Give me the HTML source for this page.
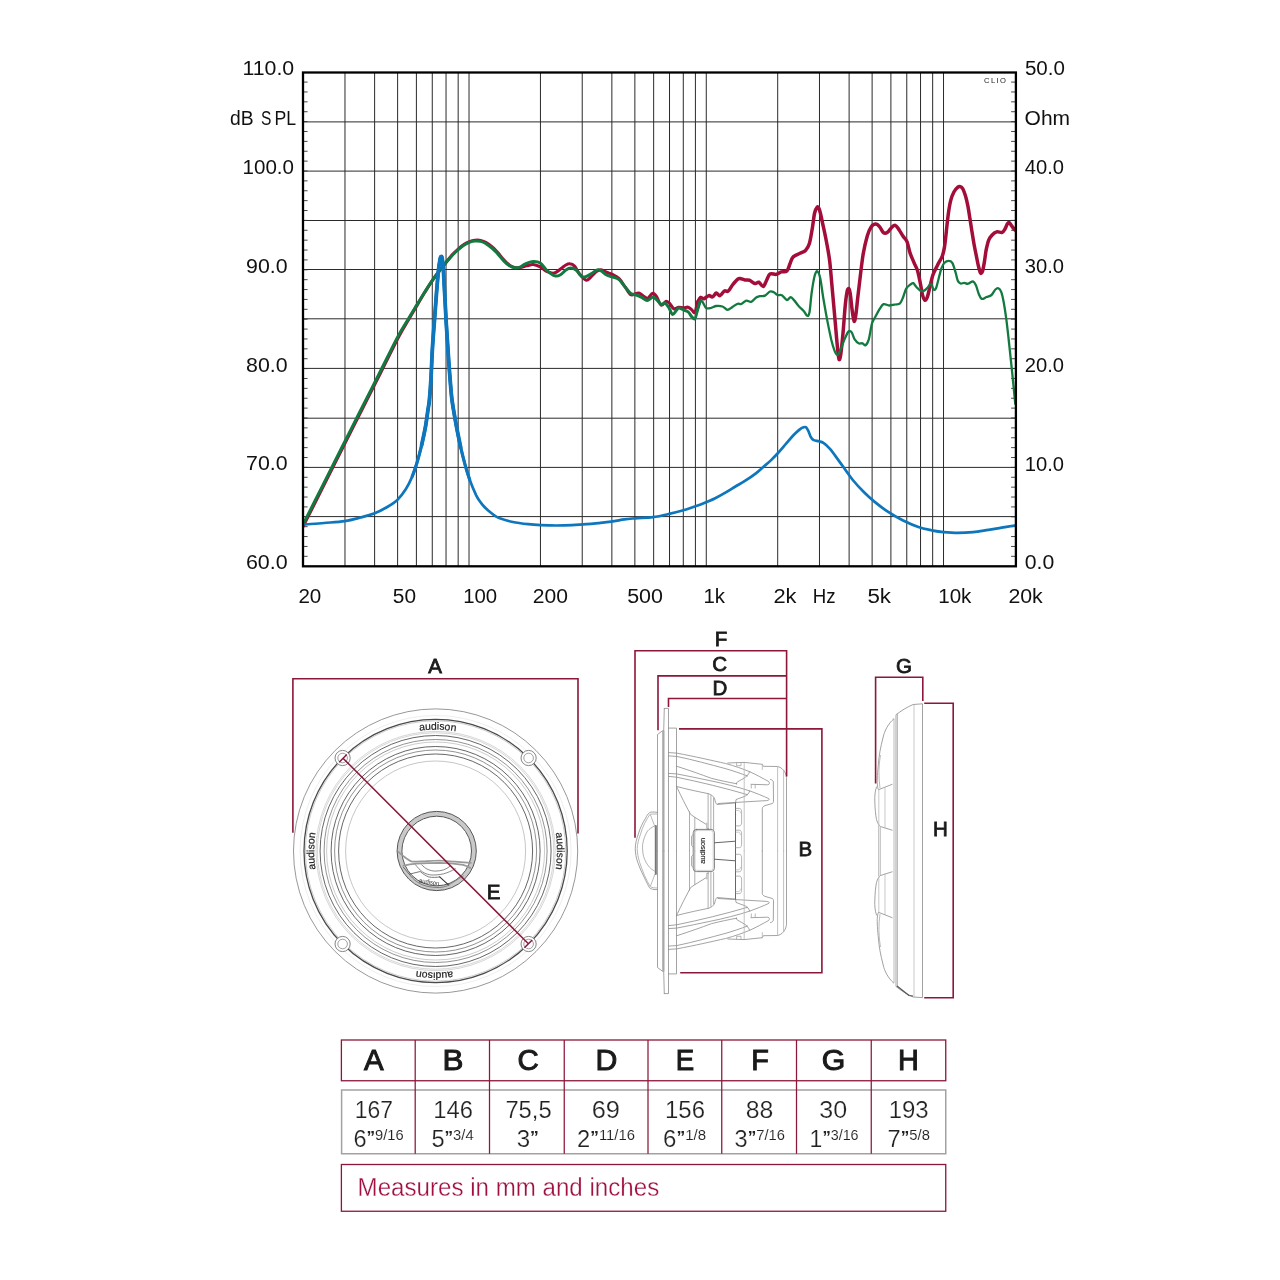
<!DOCTYPE html>
<html><head><meta charset="utf-8"><title>Speaker response and dimensions</title>
<style>
html,body{margin:0;padding:0;background:#fff;}
body{width:1280px;height:1280px;overflow:hidden;font-family:"Liberation Sans", sans-serif;}
svg{display:block;font-family:"Liberation Sans", sans-serif;will-change:transform;}
</style></head><body>
<svg width="1280" height="1280" viewBox="0 0 1280 1280">
<defs><clipPath id="cc"><rect x="302" y="72" width="715" height="495"/></clipPath></defs>
<rect width="1280" height="1280" fill="#fff"/>
<!-- CHART -->
<path d="M344.98 72.5V566.3M374.62 72.5V566.3M397.61 72.5V566.3M416.40 72.5V566.3M432.28 72.5V566.3M446.04 72.5V566.3M458.17 72.5V566.3M469.03 72.5V566.3M540.45 72.5V566.3M582.23 72.5V566.3M611.87 72.5V566.3M634.86 72.5V566.3M653.65 72.5V566.3M669.53 72.5V566.3M683.29 72.5V566.3M695.42 72.5V566.3M706.28 72.5V566.3M777.70 72.5V566.3M819.48 72.5V566.3M849.12 72.5V566.3M872.11 72.5V566.3M890.90 72.5V566.3M906.78 72.5V566.3M920.54 72.5V566.3M932.67 72.5V566.3M943.53 72.5V566.3M303.0 516.60H1015.9M303.0 467.40H1015.9M303.0 418.20H1015.9M303.0 368.40H1015.9M303.0 318.80H1015.9M303.0 269.50H1015.9M303.0 220.50H1015.9M303.0 171.10H1015.9M303.0 121.90H1015.9" stroke="#2a2a2a" stroke-width="1.0" fill="none"/>
<path d="M303.0 556.32h4.6M1015.9 556.32h-4.8M303.0 546.44h4.6M1015.9 546.44h-4.8M303.0 536.56h4.6M1015.9 536.56h-4.8M303.0 526.68h4.6M1015.9 526.68h-4.8M303.0 516.80h4.6M1015.9 516.80h-4.8M303.0 506.92h4.6M1015.9 506.92h-4.8M303.0 497.04h4.6M1015.9 497.04h-4.8M303.0 487.16h4.6M1015.9 487.16h-4.8M303.0 477.28h4.6M1015.9 477.28h-4.8M303.0 467.40h4.6M1015.9 467.40h-4.8M303.0 457.52h4.6M1015.9 457.52h-4.8M303.0 447.64h4.6M1015.9 447.64h-4.8M303.0 437.76h4.6M1015.9 437.76h-4.8M303.0 427.88h4.6M1015.9 427.88h-4.8M303.0 418.00h4.6M1015.9 418.00h-4.8M303.0 408.12h4.6M1015.9 408.12h-4.8M303.0 398.24h4.6M1015.9 398.24h-4.8M303.0 388.36h4.6M1015.9 388.36h-4.8M303.0 378.48h4.6M1015.9 378.48h-4.8M303.0 368.60h4.6M1015.9 368.60h-4.8M303.0 358.72h4.6M1015.9 358.72h-4.8M303.0 348.84h4.6M1015.9 348.84h-4.8M303.0 338.96h4.6M1015.9 338.96h-4.8M303.0 329.08h4.6M1015.9 329.08h-4.8M303.0 319.20h4.6M1015.9 319.20h-4.8M303.0 309.32h4.6M1015.9 309.32h-4.8M303.0 299.44h4.6M1015.9 299.44h-4.8M303.0 289.56h4.6M1015.9 289.56h-4.8M303.0 279.68h4.6M1015.9 279.68h-4.8M303.0 269.80h4.6M1015.9 269.80h-4.8M303.0 259.92h4.6M1015.9 259.92h-4.8M303.0 250.04h4.6M1015.9 250.04h-4.8M303.0 240.16h4.6M1015.9 240.16h-4.8M303.0 230.28h4.6M1015.9 230.28h-4.8M303.0 220.40h4.6M1015.9 220.40h-4.8M303.0 210.52h4.6M1015.9 210.52h-4.8M303.0 200.64h4.6M1015.9 200.64h-4.8M303.0 190.76h4.6M1015.9 190.76h-4.8M303.0 180.88h4.6M1015.9 180.88h-4.8M303.0 171.00h4.6M1015.9 171.00h-4.8M303.0 161.12h4.6M1015.9 161.12h-4.8M303.0 151.24h4.6M1015.9 151.24h-4.8M303.0 141.36h4.6M1015.9 141.36h-4.8M303.0 131.48h4.6M1015.9 131.48h-4.8M303.0 121.60h4.6M1015.9 121.60h-4.8M303.0 111.72h4.6M1015.9 111.72h-4.8M303.0 101.84h4.6M1015.9 101.84h-4.8M303.0 91.96h4.6M1015.9 91.96h-4.8M303.0 82.08h4.6M1015.9 82.08h-4.8" stroke="#333" stroke-width="0.9" fill="none"/>
<g fill="none" stroke-linejoin="round" stroke-linecap="round" clip-path="url(#cc)">
<path d="M302.4 527.8C305.9 520.8 316.8 499.3 323.4 486.1C330.0 472.9 335.9 461.2 342.2 448.8C348.5 436.4 354.7 423.9 361.0 411.5C367.3 399.1 373.6 386.6 379.9 374.2C386.2 361.8 393.7 346.1 398.6 336.9C403.5 327.7 406.1 324.0 409.1 318.8C412.2 313.5 414.3 310.0 416.9 305.6C419.5 301.2 422.1 296.7 424.7 292.5C427.3 288.3 430.0 283.9 432.5 280.3C435.0 276.7 437.2 273.7 439.5 270.7C441.8 267.7 443.9 264.9 446.1 262.2C448.3 259.5 450.5 256.8 452.5 254.6C454.5 252.4 456.0 251.0 457.9 249.3C459.8 247.6 461.8 245.9 463.8 244.6C465.7 243.3 467.5 242.3 469.4 241.6C471.3 240.9 473.1 240.5 475.0 240.3C476.9 240.1 478.7 240.0 480.6 240.4C482.5 240.8 484.4 241.5 486.2 242.6C488.1 243.7 490.0 245.2 491.9 246.8C493.8 248.4 495.6 250.4 497.5 252.4C499.4 254.4 501.2 257.0 503.1 259.0C505.0 261.0 506.9 263.2 508.8 264.6C510.6 266.0 512.7 266.9 514.4 267.4C516.1 267.9 516.9 268.0 519.0 267.7C521.1 267.4 524.5 266.3 526.9 265.8C529.2 265.3 530.9 264.3 533.1 264.5C535.3 264.7 537.9 265.7 540.2 266.9C542.6 268.1 544.9 270.6 547.2 271.6C549.5 272.6 551.9 273.6 554.2 273.1C556.5 272.6 559.3 269.8 561.2 268.4C563.2 267.0 564.5 265.8 565.9 265.0C567.3 264.2 568.4 263.6 569.8 263.8C571.2 263.9 572.8 264.3 574.5 266.1C576.2 267.9 578.0 272.4 580.0 274.7C582.0 277.0 584.4 279.8 586.2 280.2C588.1 280.6 589.2 278.4 590.9 277.0C592.6 275.6 594.7 272.8 596.4 271.6C598.1 270.4 599.4 269.6 601.1 269.7C602.8 269.8 604.7 271.5 606.6 272.3C608.5 273.1 610.7 273.6 612.8 274.7C614.9 275.8 617.0 276.5 619.1 278.6C621.2 280.7 623.3 284.5 625.3 287.2C627.2 289.9 629.0 293.7 630.8 294.7C632.6 295.7 634.8 293.7 636.2 293.4C637.7 293.1 638.1 292.6 639.4 293.1C640.7 293.6 642.7 295.8 644.1 296.6C645.5 297.4 646.6 298.6 648.0 298.1C649.4 297.6 651.3 293.6 652.7 293.4C654.1 293.1 655.2 294.6 656.6 296.6C658.0 298.6 659.6 304.4 661.2 305.2C662.9 306.0 664.8 301.5 666.2 301.2C667.7 301.0 668.8 302.5 670.0 303.8C671.2 305.0 672.3 308.2 673.8 308.8C675.2 309.3 677.1 307.4 678.8 307.2C680.4 307.1 682.2 307.8 683.8 307.8C685.3 307.8 686.7 306.9 688.1 307.2C689.5 307.6 690.8 309.1 691.9 310.0C693.0 310.9 694.1 313.8 695.0 312.5C695.9 311.2 696.6 305.0 697.5 302.5C698.4 300.0 700.1 298.3 700.6 297.5" stroke="#a30d3a" stroke-width="3.1"/>
<path d="M697.5 302.5C698.0 301.7 699.6 298.1 700.6 297.5C701.6 296.9 702.4 299.1 703.8 298.8C705.1 298.4 707.3 295.9 708.8 295.6C710.2 295.3 711.2 297.3 712.5 296.9C713.8 296.5 715.0 293.3 716.2 293.1C717.5 292.9 718.6 296.0 720.0 295.6C721.4 295.2 723.0 291.7 724.4 291.0C725.8 290.3 726.8 292.2 728.1 291.2C729.5 290.2 730.9 287.0 732.5 285.0C734.1 283.0 736.2 280.5 737.5 279.4C738.8 278.3 738.8 278.4 740.0 278.5C741.2 278.6 743.4 279.7 745.0 280.0C746.6 280.3 747.7 279.7 749.4 280.2C751.1 280.8 753.4 283.2 755.0 283.5C756.6 283.8 757.4 281.8 758.8 282.2C760.1 282.8 761.9 286.7 763.1 286.5C764.4 286.3 765.1 283.3 766.2 281.2C767.4 279.2 768.3 275.1 770.0 274.0C771.7 272.9 774.4 274.8 776.2 274.4C778.1 274.0 779.5 272.5 781.2 271.9C783.0 271.3 785.4 272.4 786.9 271.0C788.4 269.6 789.0 266.1 790.0 263.8C791.0 261.4 791.4 258.6 793.1 256.9C794.8 255.2 797.9 254.4 800.0 253.3C802.1 252.2 803.9 252.0 805.5 250.4C807.1 248.8 808.3 247.1 809.4 243.5C810.5 239.9 811.3 234.1 812.2 229.0C813.1 223.9 813.8 216.6 814.6 213.0C815.4 209.4 816.5 208.0 817.2 207.2C817.9 206.4 818.2 207.2 818.8 208.1C819.3 209.0 819.5 209.7 820.3 212.8C821.1 215.9 822.3 222.0 823.4 226.9C824.5 231.8 825.5 236.8 826.6 242.5C827.7 248.2 828.8 254.0 829.7 261.2C830.6 268.5 831.2 277.7 832.0 286.2C832.8 294.8 833.6 303.9 834.4 312.8C835.2 321.7 836.1 332.4 836.7 339.4C837.4 346.4 837.8 351.6 838.3 355.0C838.8 358.4 839.0 360.0 839.4 359.7C839.8 359.4 840.3 357.8 840.9 353.4C841.5 349.0 842.3 340.7 843.0 333.1C843.7 325.6 844.4 314.9 845.0 308.1C845.6 301.3 846.3 295.8 846.9 292.5C847.5 289.2 848.2 288.3 848.8 288.6C849.3 288.9 849.7 290.3 850.3 294.1C850.9 297.9 851.6 306.7 852.3 311.2C852.9 315.8 853.6 320.9 854.2 321.4C854.8 321.9 855.3 318.4 855.9 314.4C856.5 310.4 857.1 303.4 857.8 297.2C858.5 290.9 859.3 284.2 860.2 276.9C861.1 269.6 862.1 260.2 863.3 253.4C864.5 246.6 865.9 240.7 867.2 236.2C868.5 231.8 869.7 228.9 871.1 226.9C872.5 224.9 874.4 224.1 875.8 224.1C877.2 224.1 878.4 225.4 879.7 226.9C881.0 228.4 882.3 231.9 883.6 232.8C884.9 233.7 886.2 233.2 887.5 232.3C888.8 231.5 890.1 228.9 891.4 227.7C892.7 226.5 894.0 224.9 895.3 225.3C896.6 225.7 897.9 228.2 899.2 230.0C900.5 231.8 901.8 234.3 903.1 236.2C904.4 238.2 905.8 238.8 907.0 241.7C908.2 244.6 909.0 249.9 910.2 253.4C911.4 256.9 912.9 259.9 914.1 262.8C915.3 265.7 916.5 267.2 917.5 270.6C918.5 274.0 919.4 278.9 920.3 283.1C921.2 287.3 921.9 292.7 922.7 295.6C923.5 298.5 924.2 300.0 925.0 300.3C925.8 300.6 926.5 299.3 927.3 297.2C928.1 295.1 928.8 291.4 929.7 287.8C930.6 284.2 931.5 279.1 932.8 275.3C934.1 271.5 935.9 268.4 937.5 265.2C939.1 262.0 941.0 259.4 942.2 256.4C943.4 253.3 943.8 251.2 944.5 246.9C945.2 242.7 945.8 236.4 946.4 230.9C947.0 225.4 947.6 219.0 948.3 214.0C949.0 209.0 949.7 204.6 950.6 200.9C951.5 197.2 952.7 194.3 953.9 192.0C955.1 189.7 956.5 188.2 957.6 187.3C958.7 186.4 959.6 186.5 960.5 186.7C961.4 186.9 961.9 187.2 962.8 188.8C963.6 190.3 964.7 193.3 965.6 196.2C966.5 199.2 967.3 203.0 968.0 206.6C968.7 210.2 969.2 213.9 969.8 217.8C970.4 221.7 971.0 225.6 971.7 230.0C972.4 234.4 973.2 239.6 974.0 244.0C974.8 248.4 975.6 252.3 976.4 256.2C977.2 260.2 978.0 264.7 978.8 267.5C979.5 270.3 980.0 272.5 980.6 273.1C981.2 273.7 981.9 273.1 982.5 271.2C983.1 269.4 983.8 265.5 984.4 261.9C985.0 258.3 985.5 253.3 986.2 249.7C987.0 246.1 987.7 242.7 988.6 240.3C989.5 237.9 990.6 236.6 991.9 235.2C993.2 233.8 994.9 232.4 996.6 231.9C998.3 231.4 1000.8 232.8 1002.2 232.3C1003.6 231.8 1004.1 230.4 1005.0 229.0C1005.9 227.6 1006.6 225.0 1007.3 223.9C1008.0 222.8 1008.5 222.2 1009.2 222.5C1009.9 222.8 1010.7 224.6 1011.6 225.8C1012.5 227.1 1014.3 229.3 1014.8 230.0" stroke="#a30d3a" stroke-width="3.5"/>
<path d="M303.6 523.4C306.7 517.2 316.1 498.5 322.4 486.1C328.7 473.7 334.9 461.2 341.2 448.8C347.5 436.4 353.7 423.9 360.0 411.5C366.3 399.1 372.6 386.6 378.9 374.2C385.2 361.8 392.8 346.1 397.7 336.9C402.6 327.7 405.3 324.0 408.4 318.8C411.5 313.5 413.7 310.0 416.4 305.6C419.1 301.2 421.8 296.7 424.4 292.5C427.0 288.3 429.8 283.9 432.3 280.3C434.8 276.7 437.1 273.9 439.4 270.9C441.7 267.9 443.9 265.1 446.1 262.5C448.3 259.9 450.5 257.1 452.5 255.0C454.5 252.9 456.0 251.4 457.9 249.8C459.8 248.2 461.8 246.4 463.8 245.2C465.7 243.9 467.5 243.0 469.4 242.3C471.3 241.6 473.1 241.2 475.0 241.1C476.9 240.9 478.7 241.0 480.6 241.4C482.5 241.8 484.4 242.7 486.2 243.8C488.1 244.8 490.0 246.4 491.9 248.0C493.8 249.6 495.6 251.6 497.5 253.6C499.4 255.6 501.2 258.2 503.1 260.2C505.0 262.1 506.9 264.1 508.8 265.3C510.6 266.6 512.5 267.4 514.4 267.7C516.3 268.0 518.2 267.9 520.0 267.2C521.8 266.5 523.1 264.7 525.3 263.8C527.5 262.8 530.6 261.5 533.1 261.4C535.6 261.3 537.9 261.4 540.2 263.0C542.6 264.6 544.7 268.7 547.2 270.8C549.7 272.9 552.8 275.2 555.0 275.9C557.2 276.5 558.7 275.7 560.5 274.7C562.3 273.7 564.2 271.1 565.9 270.0C567.6 268.9 568.9 268.1 570.6 268.1C572.3 268.1 574.3 268.6 576.1 270.0C577.9 271.4 580.1 275.1 581.6 276.2C583.1 277.4 583.5 277.4 585.0 277.0C586.5 276.6 588.9 275.1 590.9 273.9C592.9 272.7 595.5 270.5 597.2 270.0C598.9 269.5 599.5 270.0 601.1 270.8C602.7 271.6 604.7 274.0 606.6 275.0C608.5 276.0 610.7 276.2 612.8 277.0C614.9 277.8 617.0 278.0 619.1 279.7C621.2 281.4 623.3 284.9 625.3 287.2C627.2 289.5 629.0 292.1 630.8 293.4C632.6 294.7 634.4 294.4 636.2 295.0C638.1 295.6 639.9 296.4 641.7 297.3C643.5 298.2 645.4 300.5 647.2 300.5C649.0 300.5 651.1 297.4 652.7 297.3C654.3 297.2 655.2 298.5 656.6 299.7C658.0 300.9 659.9 303.8 661.2 304.4C662.6 305.0 663.8 302.6 665.0 303.1C666.2 303.6 667.5 305.6 668.8 307.5C670.0 309.4 671.2 313.9 672.5 314.4C673.8 314.9 675.2 311.7 676.2 310.6C677.3 309.6 677.5 308.2 678.8 308.1C680.0 308.0 682.2 309.4 683.8 310.0C685.3 310.6 686.7 310.8 688.1 311.9C689.5 313.0 690.8 315.8 691.9 316.9C693.0 318.0 694.1 319.6 695.0 318.5C695.9 317.4 696.7 312.8 697.5 310.0C698.3 307.2 699.6 303.2 700.0 301.9" stroke="#127a3e" stroke-width="3.0"/>
<path d="M697.5 310.0C697.9 308.6 699.2 303.2 700.0 301.9C700.8 300.5 701.5 300.9 702.5 301.9C703.5 302.9 704.8 307.1 706.2 308.1C707.7 309.1 709.6 308.1 711.2 307.8C712.9 307.4 714.4 306.2 716.2 306.0C718.1 305.8 720.6 305.9 722.5 306.5C724.4 307.1 725.8 309.7 727.5 309.8C729.2 309.8 730.8 307.9 732.5 306.9C734.2 305.9 736.0 304.2 737.5 303.8C739.0 303.3 739.8 304.5 741.2 304.0C742.7 303.5 744.6 301.0 746.2 300.6C747.9 300.2 749.6 302.4 751.2 301.9C752.9 301.4 754.8 298.4 756.2 297.5C757.7 296.6 758.5 296.6 760.0 296.2C761.5 295.9 763.3 296.4 765.0 295.6C766.7 294.8 768.5 292.1 770.0 291.5C771.5 290.9 772.5 291.7 773.8 292.2C775.0 292.8 776.1 294.5 777.5 295.0C778.9 295.5 780.3 294.4 781.9 295.2C783.5 296.1 785.4 299.7 786.9 300.0C788.4 300.3 789.4 297.1 790.6 297.2C791.9 297.4 793.0 299.1 794.4 300.6C795.8 302.1 797.2 304.5 798.8 306.2C800.3 308.0 802.5 309.7 803.9 311.2C805.3 312.8 806.1 315.3 807.0 315.6C807.9 315.9 808.6 316.7 809.4 312.8C810.2 308.9 810.8 298.8 811.7 292.5C812.6 286.2 813.8 278.8 814.8 275.3C815.8 271.8 816.6 270.9 817.5 271.4C818.4 271.9 819.3 273.8 820.3 278.4C821.3 283.0 822.2 291.7 823.4 298.8C824.6 305.8 826.0 313.8 827.3 320.6C828.6 327.4 830.1 334.4 831.2 339.4C832.4 344.3 833.4 347.7 834.4 350.3C835.4 352.9 836.5 355.1 837.5 355.0C838.5 354.9 839.4 352.1 840.6 349.5C841.8 346.9 843.2 342.4 844.5 339.4C845.8 336.4 847.2 332.8 848.4 331.6C849.6 330.4 850.5 331.0 851.6 332.3C852.7 333.6 853.5 337.6 854.7 339.4C855.9 341.2 857.3 342.6 858.6 343.3C859.9 344.0 861.3 343.0 862.5 343.3C863.7 343.6 864.6 346.0 865.6 345.3C866.6 344.6 867.7 343.0 868.8 339.4C869.8 335.8 870.9 327.4 871.9 323.8C872.9 320.1 873.7 320.0 875.0 317.5C876.3 315.0 878.3 311.1 879.7 308.9C881.1 306.7 882.0 304.8 883.6 304.2C885.2 303.6 887.2 305.4 889.1 305.5C891.0 305.6 893.5 304.9 895.3 304.5C897.1 304.1 898.7 304.6 900.0 303.4C901.3 302.2 902.1 299.7 903.1 297.2C904.1 294.7 905.1 290.7 906.2 288.6C907.4 286.5 909.0 285.6 910.2 284.7C911.4 283.8 912.3 282.7 913.3 283.1C914.3 283.5 915.2 285.8 916.4 287.0C917.6 288.2 919.0 290.0 920.3 290.6C921.6 291.2 922.9 291.2 924.2 290.6C925.5 290.0 927.0 288.1 928.1 287.0C929.2 285.9 930.0 283.5 930.9 283.9C931.8 284.3 932.8 288.6 933.6 289.4C934.4 290.2 935.1 290.2 935.9 288.6C936.7 287.0 937.4 283.4 938.3 280.0C939.2 276.6 940.4 271.2 941.4 268.3C942.4 265.4 943.3 264.0 944.5 262.8C945.7 261.6 947.1 260.9 948.4 260.9C949.7 260.9 951.1 260.9 952.3 262.8C953.5 264.7 954.6 269.2 955.5 272.2C956.4 275.2 957.0 278.9 957.8 280.8C958.6 282.7 959.4 283.1 960.5 283.5C961.6 283.9 962.9 282.9 964.2 282.9C965.5 282.9 966.6 284.0 968.1 283.7C969.6 283.4 971.7 281.1 973.0 281.3C974.3 281.6 974.9 283.1 975.9 285.2C976.9 287.3 977.8 291.7 978.8 294.0C979.8 296.3 980.5 298.4 981.8 298.9C983.0 299.4 985.0 297.6 986.6 297.0C988.2 296.4 990.0 296.2 991.5 295.0C993.0 293.8 994.2 290.6 995.4 289.5C996.5 288.4 997.4 287.8 998.4 288.2C999.4 288.6 1000.4 289.7 1001.3 292.1C1002.2 294.5 1003.0 298.4 1003.8 302.8C1004.6 307.2 1005.4 312.5 1006.2 318.4C1007.0 324.3 1007.7 330.8 1008.5 338.0C1009.3 345.2 1010.2 354.2 1011.0 361.4C1011.8 368.5 1012.3 373.8 1013.0 380.9C1013.7 388.0 1014.9 400.1 1015.3 404.0" stroke="#127a3e" stroke-width="2.3"/>
<path d="M303.6 524.5C307.0 524.2 317.1 523.6 324.0 523.0C330.9 522.4 338.6 522.0 344.7 521.1C350.8 520.2 355.6 518.8 360.6 517.5C365.6 516.2 370.3 515.0 374.7 513.3C379.1 511.5 383.4 509.2 387.2 507.0C391.0 504.8 394.2 503.0 397.3 500.0C400.4 497.0 403.4 492.9 405.9 489.0C408.4 485.1 410.4 480.8 412.2 476.6C414.0 472.4 415.0 469.2 416.6 464.0C418.2 458.8 420.1 451.5 421.6 445.3C423.1 439.1 424.5 432.3 425.5 426.6C426.5 420.9 427.2 415.4 427.8 411.0C428.4 406.6 428.9 405.5 429.4 400.0C429.9 394.5 430.5 386.8 431.0 378.0C431.5 369.2 431.9 356.9 432.5 347.2C433.1 337.5 433.8 329.0 434.5 320.0C435.2 311.0 435.8 301.3 436.5 293.0C437.2 284.7 437.9 275.8 438.5 270.0C439.1 264.2 439.8 260.7 440.2 258.5C440.6 256.3 440.8 256.6 441.1 256.6C441.4 256.6 441.8 255.9 442.2 258.5C442.6 261.1 443.1 265.8 443.5 272.0C443.9 278.2 444.3 287.6 444.8 296.0C445.3 304.4 445.7 313.5 446.2 322.5C446.8 331.5 447.4 340.8 448.0 350.0C448.6 359.2 449.3 369.7 450.0 378.0C450.7 386.3 451.0 392.4 452.0 400.0C453.0 407.6 454.5 415.6 455.9 423.4C457.3 431.2 459.0 439.9 460.6 446.9C462.2 453.9 463.8 460.1 465.3 465.6C466.8 471.1 467.9 474.8 469.7 479.7C471.5 484.6 474.5 491.7 476.2 495.3C478.0 498.9 478.7 499.6 480.0 501.5C481.3 503.4 482.5 504.9 484.0 506.5C485.5 508.1 486.9 509.4 488.8 511.0C490.6 512.5 493.2 514.6 495.0 515.8C496.8 517.0 496.7 517.3 499.7 518.3C502.7 519.3 508.1 521.0 512.8 522.0C517.5 523.0 523.5 523.7 528.1 524.2C532.7 524.7 535.9 524.9 540.6 525.1C545.4 525.3 551.4 525.5 556.6 525.5C561.8 525.5 567.5 525.3 571.9 525.1C576.3 524.9 578.4 524.7 582.8 524.4C587.2 524.1 593.4 523.6 598.1 523.1C602.8 522.6 606.9 522.2 611.2 521.6C615.6 521.0 620.4 520.0 624.4 519.4C628.4 518.8 630.6 518.7 635.3 518.3C640.0 517.9 647.1 517.9 652.8 517.2C658.4 516.5 664.1 515.1 669.2 513.9C674.3 512.7 679.0 511.5 683.4 510.2C687.8 508.9 692.7 507.1 695.5 506.2C698.3 505.4 698.1 505.5 700.0 504.8C701.9 504.1 704.1 503.2 706.6 502.1C709.1 501.0 712.1 499.8 715.2 498.2C718.3 496.6 722.0 494.6 725.4 492.6C728.8 490.7 732.1 488.5 735.5 486.5C738.9 484.5 742.3 482.6 745.7 480.4C749.1 478.2 753.0 475.5 755.9 473.3C758.8 471.1 760.5 469.4 763.0 467.2C765.5 465.0 768.6 462.5 771.1 460.1C773.6 457.7 775.5 455.8 778.0 453.0C780.5 450.2 783.7 446.4 786.3 443.4C788.9 440.4 791.2 437.5 793.4 435.2C795.6 432.9 797.8 431.0 799.5 429.6C801.2 428.3 802.5 427.7 803.6 427.3C804.7 426.9 805.3 426.7 806.1 427.3C806.9 427.9 807.4 429.1 808.2 430.7C809.0 432.3 809.9 435.3 810.7 436.8C811.5 438.3 811.9 439.1 813.2 439.8C814.6 440.6 817.1 440.8 818.8 441.3C820.5 441.8 821.5 441.6 823.4 442.9C825.3 444.1 828.0 446.7 830.0 448.9C832.0 451.1 832.9 452.7 835.3 455.9C837.6 459.1 841.2 464.0 844.1 468.0C847.0 472.0 849.5 476.0 852.8 480.0C856.1 484.0 860.1 488.4 863.8 492.0C867.4 495.6 870.7 498.6 874.7 501.9C878.7 505.2 883.1 508.6 887.8 511.7C892.5 514.8 898.0 518.0 903.1 520.5C908.2 523.0 913.6 525.4 918.4 527.0C923.1 528.6 927.4 529.4 931.6 530.3C935.8 531.1 939.2 531.7 943.6 532.1C948.0 532.5 952.9 532.9 957.8 532.9C962.7 532.9 968.0 532.6 973.1 532.1C978.2 531.6 983.6 530.6 988.4 529.9C993.1 529.2 997.2 528.4 1001.6 527.7C1006.0 527.0 1012.5 525.9 1014.7 525.5" stroke="#0e76bc" stroke-width="2.7"/>
<path d="M412.2 476.6C412.9 474.5 415.0 469.2 416.6 464.0C418.2 458.8 420.1 451.5 421.6 445.3C423.1 439.1 424.5 432.3 425.5 426.6C426.5 420.9 427.2 415.4 427.8 411.0C428.4 406.6 428.9 405.5 429.4 400.0C429.9 394.5 430.5 386.8 431.0 378.0C431.5 369.2 431.9 356.9 432.5 347.2C433.1 337.5 433.8 329.0 434.5 320.0C435.2 311.0 435.8 301.3 436.5 293.0C437.2 284.7 437.9 275.8 438.5 270.0C439.1 264.2 439.8 260.7 440.2 258.5C440.6 256.3 440.8 256.6 441.1 256.6C441.4 256.6 441.8 255.9 442.2 258.5C442.6 261.1 443.1 265.8 443.5 272.0C443.9 278.2 444.3 287.6 444.8 296.0C445.3 304.4 445.7 313.5 446.2 322.5C446.8 331.5 447.4 340.8 448.0 350.0C448.6 359.2 449.3 369.7 450.0 378.0C450.7 386.3 451.0 392.4 452.0 400.0C453.0 407.6 454.5 415.6 455.9 423.4C457.3 431.2 459.0 439.9 460.6 446.9C462.2 453.9 463.8 460.1 465.3 465.6C466.8 471.1 469.0 477.4 469.7 479.7" stroke="#0e76bc" stroke-width="3.2"/>
<path d="M421.6 445.3C422.2 442.2 424.5 432.3 425.5 426.6C426.5 420.9 427.2 415.4 427.8 411.0C428.4 406.6 428.9 405.5 429.4 400.0C429.9 394.5 430.5 386.8 431.0 378.0C431.5 369.2 431.9 356.9 432.5 347.2C433.1 337.5 433.8 329.0 434.5 320.0C435.2 311.0 435.8 301.3 436.5 293.0C437.2 284.7 437.9 275.8 438.5 270.0C439.1 264.2 439.8 260.7 440.2 258.5C440.6 256.3 440.8 256.6 441.1 256.6C441.4 256.6 441.8 255.9 442.2 258.5C442.6 261.1 443.1 265.8 443.5 272.0C443.9 278.2 444.3 287.6 444.8 296.0C445.3 304.4 445.7 313.5 446.2 322.5C446.8 331.5 447.4 340.8 448.0 350.0C448.6 359.2 449.3 369.7 450.0 378.0C450.7 386.3 451.0 392.4 452.0 400.0C453.0 407.6 454.5 415.6 455.9 423.4C457.3 431.2 459.8 443.0 460.6 446.9" stroke="#0e76bc" stroke-width="3.8"/>
</g>
<rect x="303.0" y="72.5" width="712.9" height="493.8" fill="none" stroke="#000" stroke-width="2.3"/>
<!-- LABELS -->
<g><text x="242.4" y="75.4" font-size="19.9" textLength="51.8" lengthAdjust="spacingAndGlyphs" fill="#111">110.0</text>
<text x="242.5" y="174.1" font-size="19.9" textLength="51.5" lengthAdjust="spacingAndGlyphs" fill="#111">100.0</text>
<text x="246.1" y="272.8" font-size="19.9" textLength="41.5" lengthAdjust="spacingAndGlyphs" fill="#111">90.0</text>
<text x="246.1" y="371.6" font-size="19.9" textLength="41.5" lengthAdjust="spacingAndGlyphs" fill="#111">80.0</text>
<text x="246.1" y="470.4" font-size="19.9" textLength="41.5" lengthAdjust="spacingAndGlyphs" fill="#111">70.0</text>
<text x="245.9" y="568.6" font-size="19.9" textLength="41.7" lengthAdjust="spacingAndGlyphs" fill="#111">60.0</text>
<text x="230.0" y="124.6" font-size="19.9" textLength="23.6" lengthAdjust="spacingAndGlyphs" fill="#111">dB</text>
<text x="261.0" y="124.6" font-size="19.9" textLength="10.4" lengthAdjust="spacingAndGlyphs" fill="#111">S</text>
<text x="274.6" y="124.6" font-size="19.9" textLength="21.6" lengthAdjust="spacingAndGlyphs" fill="#111">PL</text>
<text x="1024.9" y="75.2" font-size="19.9" textLength="40.0" lengthAdjust="spacingAndGlyphs" fill="#111">50.0</text>
<text x="1024.7" y="174.2" font-size="19.9" textLength="39.3" lengthAdjust="spacingAndGlyphs" fill="#111">40.0</text>
<text x="1024.7" y="272.9" font-size="19.9" textLength="39.3" lengthAdjust="spacingAndGlyphs" fill="#111">30.0</text>
<text x="1024.7" y="371.7" font-size="19.9" textLength="39.3" lengthAdjust="spacingAndGlyphs" fill="#111">20.0</text>
<text x="1024.7" y="470.5" font-size="19.9" textLength="39.3" lengthAdjust="spacingAndGlyphs" fill="#111">10.0</text>
<text x="1024.7" y="568.8" font-size="19.9" textLength="29.5" lengthAdjust="spacingAndGlyphs" fill="#111">0.0</text>
<text x="1024.6" y="124.7" font-size="19.9" textLength="45.5" lengthAdjust="spacingAndGlyphs" fill="#111">Ohm</text>
<text x="298.4" y="603.3" font-size="19.9" textLength="22.9" lengthAdjust="spacingAndGlyphs" fill="#111">20</text>
<text x="392.8" y="603.3" font-size="19.9" textLength="23.2" lengthAdjust="spacingAndGlyphs" fill="#111">50</text>
<text x="463.2" y="603.3" font-size="19.9" textLength="34.0" lengthAdjust="spacingAndGlyphs" fill="#111">100</text>
<text x="532.8" y="603.3" font-size="19.9" textLength="35.2" lengthAdjust="spacingAndGlyphs" fill="#111">200</text>
<text x="627.2" y="603.3" font-size="19.9" textLength="35.8" lengthAdjust="spacingAndGlyphs" fill="#111">500</text>
<text x="703.5" y="603.3" font-size="19.9" textLength="21.6" lengthAdjust="spacingAndGlyphs" fill="#111">1k</text>
<text x="773.4" y="603.3" font-size="19.9" textLength="23.1" lengthAdjust="spacingAndGlyphs" fill="#111">2k</text>
<text x="812.7" y="603.3" font-size="19.9" textLength="22.8" lengthAdjust="spacingAndGlyphs" fill="#111">Hz</text>
<text x="867.4" y="603.3" font-size="19.9" textLength="23.6" lengthAdjust="spacingAndGlyphs" fill="#111">5k</text>
<text x="938.2" y="603.3" font-size="19.9" textLength="33.2" lengthAdjust="spacingAndGlyphs" fill="#111">10k</text>
<text x="1008.4" y="603.3" font-size="19.9" textLength="34.4" lengthAdjust="spacingAndGlyphs" fill="#111">20k</text>
<text x="984.0" y="83.4" font-size="7.6" fill="#222" textLength="22.0" lengthAdjust="spacing">CLIO</text></g>
<!-- DRAWINGS -->
<circle cx="435.6" cy="851.0" r="142.10" fill="none" stroke="#858585" stroke-width="0.85"/>
<circle cx="435.6" cy="851.0" r="135.50" fill="none" stroke="#ddd" stroke-width="0.50"/>
<circle cx="435.6" cy="851.0" r="131.60" fill="none" stroke="#4a4a4a" stroke-width="1.30"/>
<circle cx="435.6" cy="851.0" r="130.20" fill="none" stroke="#aaa" stroke-width="0.60"/>
<circle cx="435.6" cy="851.0" r="119.60" fill="none" stroke="#bbb" stroke-width="0.60"/>
<circle cx="435.6" cy="851.0" r="118.20" fill="none" stroke="#bbb" stroke-width="0.60"/>
<circle cx="435.6" cy="851.0" r="115.50" fill="none" stroke="#555" stroke-width="0.90"/>
<circle cx="435.6" cy="851.0" r="111.50" fill="none" stroke="#777" stroke-width="0.80"/>
<circle cx="435.6" cy="851.0" r="109.00" fill="none" stroke="#aaa" stroke-width="0.60"/>
<circle cx="435.6" cy="851.0" r="104.50" fill="none" stroke="#555" stroke-width="0.90"/>
<circle cx="435.6" cy="851.0" r="101.00" fill="none" stroke="#777" stroke-width="0.80"/>
<circle cx="435.6" cy="851.0" r="97.00" fill="none" stroke="#555" stroke-width="0.90"/>
<circle cx="435.6" cy="851.0" r="90.00" fill="none" stroke="#a0a0a0" stroke-width="0.60"/>
<circle cx="342.6" cy="758.0" r="7.60" fill="#fff" stroke="#777" stroke-width="0.90"/>
<circle cx="342.6" cy="758.0" r="4.80" fill="none" stroke="#888" stroke-width="0.80"/>
<circle cx="342.6" cy="944.0" r="7.60" fill="#fff" stroke="#777" stroke-width="0.90"/>
<circle cx="342.6" cy="944.0" r="4.80" fill="none" stroke="#888" stroke-width="0.80"/>
<circle cx="528.6" cy="758.0" r="7.60" fill="#fff" stroke="#777" stroke-width="0.90"/>
<circle cx="528.6" cy="758.0" r="4.80" fill="none" stroke="#888" stroke-width="0.80"/>
<circle cx="528.6" cy="944.0" r="7.60" fill="#fff" stroke="#777" stroke-width="0.90"/>
<circle cx="528.6" cy="944.0" r="4.80" fill="none" stroke="#888" stroke-width="0.80"/>
<circle cx="436.7" cy="851.0" r="37.20" fill="none" stroke="#c9c9c9" stroke-width="4.40"/>
<circle cx="436.7" cy="851.0" r="39.60" fill="none" stroke="#555" stroke-width="1.00"/>
<circle cx="436.7" cy="851.0" r="34.80" fill="none" stroke="#555" stroke-width="1.00"/>
<g fill="none" stroke="#6a6a6a" stroke-width="0.8" stroke-linecap="round" stroke-linejoin="round">
<path d="M398.7 852C400.5 854 402.5 855.6 404.5 857C407 859 409.5 861 412.3 861.7C416 861.8 420 861.5 424.1 861.3C429 861 434 860.6 439.7 860.5C445 860.7 450 861.2 455.3 861.7C460.5 862.1 465.5 862.5 470.9 862.9" stroke="#999" stroke-width="1.7"/>
<path d="M403.4 865.6C407.5 864.7 412 864 416.25 863.7C424 863.2 432 862.9 439.7 862.9C447.5 863.1 455.5 863.8 463.1 864.8C466 865.5 468.5 866.6 470.2 868" stroke="#999" stroke-width="1.7"/>
<path d="M415.5 864.8C417.5 867.5 420 870 422.5 871.9C425.5 873.8 428.5 874.8 431.9 875C436 875.1 440 874.7 443.6 873.8C448 872.6 452 870.8 455.3 868.75"/>
<path d="M421.7 864.8C423.5 866.8 425.7 868.4 428 869.5C430.5 870.6 433 871.1 435.8 871.1C438.5 871 441 870.6 443.6 869.9C446 869 448 867.8 449.8 866.4"/>
<path d="M403.4 867.2L409.2 874.2L420.2 871.5C423 874 425.8 875.8 428.75 876.95C432.5 877.6 436 877.5 439.7 876.95" stroke="#555"/>
<path d="M439.7 876.95L448.7 885.2" stroke="#333" stroke-width="1.1"/>
<path d="M409.2 874.2C411.3 877 413.7 879.3 416.25 881.25C419 883.3 422.2 884.9 425.6 885.9C430 887.1 435 887.6 439.7 887.5C443 887.2 446 886.4 448.7 885.2"/>
<path d="M448.7 885.2L463.5 875.8" stroke="#888"/>
</g>
<text x="418.8" y="882.6" font-size="6.4" fill="#333" transform="rotate(9 418.8 882.6)" textLength="20.5" lengthAdjust="spacingAndGlyphs">audison</text>
<path id="arc0" d="M367.71 750.35A121.4 121.4 0 0 1 506.96 752.79" fill="none"/>
<text font-size="10.4" fill="#222" stroke="#222" stroke-width="0.2" text-anchor="middle"><textPath href="#arc0" startOffset="50%">audison</textPath></text>
<path id="arc1" d="M535.05 781.37A121.4 121.4 0 0 1 535.05 920.63" fill="none"/>
<text font-size="10.4" fill="#222" stroke="#222" stroke-width="0.2" text-anchor="middle"><textPath href="#arc1" startOffset="50%">audison</textPath></text>
<path id="arc2" d="M504.36 951.05A121.4 121.4 0 0 1 365.10 949.83" fill="none"/>
<text font-size="10.4" fill="#222" stroke="#222" stroke-width="0.2" text-anchor="middle"><textPath href="#arc2" startOffset="50%">audison</textPath></text>
<path id="arc3" d="M336.15 920.63A121.4 121.4 0 0 1 336.15 781.37" fill="none"/>
<text font-size="10.4" fill="#222" stroke="#222" stroke-width="0.2" text-anchor="middle"><textPath href="#arc3" startOffset="50%">audison</textPath></text>
<path d="M292.9 832.8V678.8H578.0V833.6" fill="none" stroke="#8c1739" stroke-width="1.6"/>
<path d="M343.0 758.2L528.4 943.8M339.2 762.2L346.8 754.4M524.4 947.8L532.2 940" fill="none" stroke="#8c1739" stroke-width="1.5"/>
<text x="435.1" y="673.0" font-size="20.5" fill="#1a1a1a" stroke="#1a1a1a" stroke-width="0.8" text-anchor="middle">A</text>
<text x="493.5" y="899.1" font-size="20.5" fill="#1a1a1a" stroke="#1a1a1a" stroke-width="0.8" text-anchor="middle">E</text>
<g fill="none" stroke="#8c8c8c" stroke-width="0.8" stroke-linejoin="round" stroke-linecap="round">
<path d="M 664.3 708.4 L 668.5 708.4 L 668.5 851"/>
<path d="M 664.3 993.6 L 668.5 993.6 L 668.5 851.0"/>
<path d="M 664.3 708.4 L 663.7 731 L 663.7 851"/>
<path d="M 664.3 993.6 L 663.7 971.0 L 663.7 851.0"/>
<path d="M 663.3 731 L 663.3 851" stroke="#a8a8a8" stroke-width="2.2"/>
<path d="M 663.3 971.0 L 663.3 851.0" stroke="#a8a8a8" stroke-width="2.2"/>
<path d="M 662.2 731 L 657.5 734.5 L 657.5 851"/>
<path d="M 662.2 971.0 L 657.5 967.5 L 657.5 851.0"/>
<path d="M 668.5 728.1 L 676.5 728.1 L 676.5 851"/>
<path d="M 668.5 973.9 L 676.5 973.9 L 676.5 851.0"/>
<path d="M 657.2 812.3 C 653 811.8 650.5 812 649.4 812.65 C 648 814 646.5 816 645.5 818.3 C 642.5 823 640.2 828 638.7 833 C 636.5 839 635.3 844 635.25 848.6 C 635.3 853 636.2 858 637.7 862.3 C 639.5 867.5 642 873 644.5 877.9 C 646.2 881.5 648 885 649.4 887.65 C 651 889.3 654 889.8 657.2 889.6"/>
<path d="M 657.2 814 C 654 814 651 814 649.9 814.4 C 646 820 642.5 827 640.6 833.9 C 638.5 839.5 637.3 844.5 637.2 848.6 C 637.2 853 638.3 858 639.6 862.3 C 642.5 871 646 880 650.4 886.7 C 652 887.8 655 888 657.2 888" stroke="#a5a5a5"/>
<path d="M 654.3 826.1 C 651.5 827.5 649 829.3 647.5 831 C 645 835 643.3 840 642.6 844.7 C 642.4 849 642.7 853 643.6 856.4 C 644.8 860.5 647 864.5 649.4 867.1 C 651 868.8 652.8 870.2 654.3 871" stroke="#a0a0a0"/>
<path d="M 655.8 826 L 655.8 874" stroke="#777" stroke-width="2.0"/>
<path d="M 650.5 815 L 655 827 M 650.5 886 L 655 874" stroke="#aaa"/>
<path d="M 668.5 752.6 L 676.6 753.1 C 695 756.5 712 760.5 725.6 763.5 C 735 766 743 769 749.7 771.7 C 757 775 763 778.5 768.8 781.6 C 769.8 783 769.6 784.4 767.7 784.8 L 751 784.3"/>
<path d="M 668.5 949.4 L 676.6 948.9 C 695.0 945.5 712.0 941.5 725.6 938.5 C 735.0 936.0 743.0 933.0 749.7 930.3 C 757.0 927.0 763.0 923.5 768.8 920.4 C 769.8 919.0 769.6 917.6 767.7 917.2 L 751.0 917.7"/>
<path d="M 668.5 755.9 L 676.6 756.4 C 694 760 710 764.5 725 768.5 C 733 770.8 741 773.5 747.5 776"/>
<path d="M 668.5 946.1 L 676.6 945.6 C 694.0 942.0 710.0 937.5 725.0 933.5 C 733.0 931.2 741.0 928.5 747.5 926.0"/>
<path d="M 676.6 766.25 C 690 770.5 701 774.5 711.4 778.3 C 720 780.5 729 782.4 736.6 783.75"/>
<path d="M 676.6 935.8 C 690.0 931.5 701.0 927.5 711.4 923.7 C 720.0 921.5 729.0 919.6 736.6 918.2"/>
<path d="M 749.7 771.7 C 748.5 775 746 777 743 778.8 C 740.5 780.2 738 781.5 736.6 782.7 L 736.6 784"/>
<path d="M 749.7 930.3 C 748.5 927.0 746.0 925.0 743.0 923.2 C 740.5 921.8 738.0 920.5 736.6 919.3 L 736.6 918.0"/>
<path d="M 668.5 773.4 L 676.6 773.9 C 688 776 699 778.4 709.2 780.5 C 724 783.5 738 787 749.7 790.9 C 757 793.5 763 796 768.8 798.6 C 769.8 800 768.5 800.6 765 800.7 L 718 803.5"/>
<path d="M 668.5 928.6 L 676.6 928.1 C 688.0 926.0 699.0 923.6 709.2 921.5 C 724.0 918.5 738.0 915.0 749.7 911.1 C 757.0 908.5 763.0 906.0 768.8 903.4 C 769.8 902.0 768.5 901.4 765.0 901.3 L 718.0 898.5"/>
<path d="M 668.5 776.4 L 676.6 777.2 C 700 782 725 788 747.5 794.7"/>
<path d="M 668.5 925.6 L 676.6 924.8 C 700.0 920.0 725.0 914.0 747.5 907.3"/>
<path d="M 749.7 790.9 C 749 794 746.5 795.8 743 797 C 740 798 737.5 799 736 799.6 L 735.6 803"/>
<path d="M 749.7 911.1 C 749.0 908.0 746.5 906.2 743.0 905.0 C 740.0 904.0 737.5 903.0 736.0 902.4 L 735.6 899.0"/>
<path d="M 676.6 786.5 C 688 789.5 699 791.8 708.1 793.6 C 711.5 794.5 713.8 796.5 714.7 799 C 715.2 801.5 715.8 803.3 716.9 804.5 L 735.5 802.9"/>
<path d="M 676.6 915.5 C 688.0 912.5 699.0 910.2 708.1 908.4 C 711.5 907.5 713.8 905.5 714.7 903.0 C 715.2 900.5 715.8 898.7 716.9 897.5 L 735.5 899.1"/>
<path d="M 751.3 784.8 L 751.3 788.1 M 755.2 784.8 L 755.2 788.1" stroke="#a5a5a5"/>
<path d="M 751.3 917.2 L 751.3 913.9 M 755.2 917.2 L 755.2 913.9" stroke="#a5a5a5"/>
<path d="M 676.6 786.5 L 677.5 788.5 C 681 796 685 804 690.6 814.4 L 694.8 817.3 L 705.9 824.2"/>
<path d="M 676.6 915.5 L 677.5 913.5 C 681.0 906.0 685.0 898.0 690.6 887.6 L 694.8 884.7 L 705.9 877.8"/>
<path d="M 689.5 811.5 L 689.5 851 M 694.8 817.3 L 694.8 851" stroke="#999"/>
<path d="M 689.5 890.5 L 689.5 851.0 M 694.8 884.7 L 694.8 851.0" stroke="#999"/>
<path d="M 708.1 793.6 L 708.1 829.5 M 710.9 795.5 L 710.9 829.5 M 713.6 798 L 713.6 829.5" stroke="#999"/>
<path d="M 708.1 908.4 L 708.1 872.5 M 710.9 906.5 L 710.9 872.5 M 713.6 904.0 L 713.6 872.5" stroke="#999"/>
<path d="M 706.8 823 L 706.8 828.6 L 708.4 828.6" stroke="#999"/>
<path d="M 706.8 879.0 L 706.8 873.4 L 708.4 873.4" stroke="#999"/>
<path d="M 735.5 803 L 735.5 851" stroke="#666" stroke-width="1.0"/>
<path d="M 735.5 899.0 L 735.5 851.0" stroke="#666" stroke-width="1.0"/>
<path d="M 744.2 762.4 L 744.2 851" stroke="#b5b5b5"/>
<path d="M 744.2 939.6 L 744.2 851.0" stroke="#b5b5b5"/>
<path d="M 727.8 763 L 744.2 762.4 L 762.3 764.3 L 763.3 766.3 L 777.6 766.5 C 781 767.2 783.5 769.5 785.2 772.8 C 786 774.5 786.4 776 786.5 777.6 L 786.5 851"/>
<path d="M 727.8 939.0 L 744.2 939.6 L 762.3 937.7 L 763.3 935.7 L 777.6 935.5 C 781.0 934.8 783.5 932.5 785.2 929.2 C 786.0 927.5 786.4 926.0 786.5 924.4 L 786.5 851.0"/>
<path d="M 736.6 762.6 L 736.6 765.7 L 741 765.7 L 741 762.5" stroke="#a5a5a5"/>
<path d="M 736.6 939.4 L 736.6 936.3 L 741.0 936.3 L 741.0 939.5" stroke="#a5a5a5"/>
<path d="M 762.3 764.3 L 762.3 769.5 M 777.6 766.5 L 777.6 851 M 783.6 770.5 L 783.6 851" stroke="#b0b0b0"/>
<path d="M 762.3 937.7 L 762.3 932.5 M 777.6 935.5 L 777.6 851.0 M 783.6 931.5 L 783.6 851.0" stroke="#b0b0b0"/>
<path d="M 770.5 779.4 C 772 779.8 773.2 780.6 773.3 781.8 L 773.5 801.25 C 773.4 802.6 772.8 803.2 772.6 803.4 L 765 805.6 C 763.2 806.4 762.4 807.3 762.3 808.4 L 762.3 851"/>
<path d="M 770.5 922.6 C 772.0 922.2 773.2 921.4 773.3 920.2 L 773.5 900.8 C 773.4 899.4 772.8 898.8 772.6 898.6 L 765.0 896.4 C 763.2 895.6 762.4 894.7 762.3 893.6 L 762.3 851.0"/>
<path d="M 736 808.4 L 739.3 808.4 C 741 808.7 741.6 809.9 741.6 811.4 L 741.6 822.9 C 741.6 824.4 741 825.6 739.3 825.9 L 736 825.9" stroke="#a0a0a0"/>
<path d="M 736.0 893.6 L 739.3 893.6 C 741.0 893.3 741.6 892.1 741.6 890.6 L 741.6 879.1 C 741.6 877.6 741.0 876.4 739.3 876.1 L 736.0 876.1" stroke="#a0a0a0"/>
<path d="M 736 810.4 L 738.6 810.4 C 740 810.7 740.4 811.6 740.4 812.9" stroke="#bbb"/>
<path d="M 736.0 891.6 L 738.6 891.6 C 740.0 891.3 740.4 890.4 740.4 889.1" stroke="#bbb"/>
<path d="M 736 830.2 L 739.3 830.2 C 741 830.5 741.6 831.7 741.6 833.2 L 741.6 844.7 C 741.6 846.2 741 847.4 739.3 847.7 L 736 847.7" stroke="#a0a0a0"/>
<path d="M 736.0 871.8 L 739.3 871.8 C 741.0 871.5 741.6 870.3 741.6 868.8 L 741.6 857.3 C 741.6 855.8 741.0 854.6 739.3 854.3 L 736.0 854.3" stroke="#a0a0a0"/>
<path d="M 736 832.2 L 738.6 832.2 C 740 832.5 740.4 833.4 740.4 834.7" stroke="#bbb"/>
<path d="M 736.0 869.8 L 738.6 869.8 C 740.0 869.5 740.4 868.6 740.4 867.3" stroke="#bbb"/>
<rect x="693.2" y="829.4" width="21.2" height="42.2" rx="3.3" stroke="#707070" stroke-width="0.9"/>
<rect x="694.4" y="830.6" width="18.8" height="39.8" rx="2.4" stroke="#b5b5b5" stroke-width="0.6"/>
<path d="M 693.2 834.5 L 691.5 836.2 L 691.5 845.5 L 693.2 847.2" stroke="#999"/>
<path d="M 693.2 867.5 L 691.5 865.8 L 691.5 856.5 L 693.2 854.8" stroke="#999"/>
<path d="M 714.4 842.8 L 735.5 841.2" stroke="#666" stroke-width="1.0"/>
<path d="M 714.4 859.2 L 735.5 860.8" stroke="#666" stroke-width="1.0"/>
</g>
<text x="705.2" y="850.8" font-size="7.3" fill="#222" stroke="#222" stroke-width="0.15" text-anchor="middle" textLength="26" lengthAdjust="spacingAndGlyphs" transform="rotate(-90 705.2 850.8)">audison</text>
<path d="M635.0 837.8V650.8H786.6V776.6M658.0 730.2V675.85H786.6M668.5 707.0V698.5H786.6M679.0 728.9H821.9V972.8H680.2" fill="none" stroke="#8c1739" stroke-width="1.6"/>
<text x="720.9" y="646.1" font-size="20.5" fill="#1a1a1a" stroke="#1a1a1a" stroke-width="0.8" text-anchor="middle">F</text>
<text x="719.6" y="671.0" font-size="20.5" fill="#1a1a1a" stroke="#1a1a1a" stroke-width="0.8" text-anchor="middle">C</text>
<text x="719.9" y="695.3" font-size="20.5" fill="#1a1a1a" stroke="#1a1a1a" stroke-width="0.8" text-anchor="middle">D</text>
<text x="805.3" y="855.8" font-size="20.5" fill="#1a1a1a" stroke="#1a1a1a" stroke-width="0.8" text-anchor="middle">B</text>
<g fill="none" stroke="#8a8a8a" stroke-width="0.8" stroke-linejoin="round">
<path d="M922.5 703.8V997.6"/>
<path d="M914 704.5V997" stroke="#bbb"/>
<path d="M922.5 703.8L913.1 704.5C907 707 901 711 896 714.7V986.5C901 990.5 907 994.5 913.1 997L922.5 997.6"/>
<path d="M897.5 714V987.5" stroke="#aaa"/>
<path d="M894 718.6V983" stroke="#aaa"/>
<path d="M894 718.6C888 724 884.5 731 883.2 737C880.5 747 879 756 878.5 763C877.5 772 877 780 877.3 784C877.5 787 878 789 878.5 789.7L892.5 784.2"/>
<path d="M880.5 755C878.5 765 878.5 778 880 788" stroke="#aaa"/>
<path d="M876.6 786.6C875 791 874.6 797 874.8 801C875 809 875.6 815 876.5 819.5C877.5 823 879 825.5 880.5 826.5L892.5 830.3"/>
<path d="M878.8 789.7V826M885 787V828.5" stroke="#bbb"/>
<path d="M878.8 826V876" stroke="#999"/>
<path d="M880.5 826.5V875.5" stroke="#bbb"/>
<path d="M876.6 915.4C875 911 874.6 905 874.8 901C875 893 875.6 887 876.5 882.5C877.5 879 879 876.5 880.5 875.5L892.5 871.7"/>
<path d="M878.8 912.3V876M885 915V873.5" stroke="#bbb"/>
<path d="M894 983.4C888 978 884.5 971 883.2 965C880.5 955 879 946 878.5 939C877.5 930 877 922 877.3 918C877.5 915 878 913 878.5 912.3L892.5 917.8"/>
<path d="M880.5 947C878.5 937 878.5 924 880 914" stroke="#aaa"/>
<path d="M897 986L909 995.5L913 996" stroke="#555" stroke-width="1.2"/>
</g>
<path d="M875.6 783.4V677.3H922.8V701.1M924.2 703.3H953.2V997.8H924.2" fill="none" stroke="#8c1739" stroke-width="1.6"/>
<text x="903.9" y="673.3" font-size="20.5" fill="#1a1a1a" stroke="#1a1a1a" stroke-width="0.8" text-anchor="middle">G</text>
<text x="940.3" y="836.2" font-size="20.5" fill="#1a1a1a" stroke="#1a1a1a" stroke-width="0.8" text-anchor="middle">H</text>
<!-- TABLE -->
<rect x="341.60" y="1090" width="604.15" height="63.75" fill="none" stroke="#a2a2a2" stroke-width="1.5"/>
<rect x="341.40" y="1040" width="604.35" height="40.75" fill="none" stroke="#8c1739" stroke-width="1.3"/>
<path d="M415.20 1040V1153.75M489.50 1040V1153.75M564.25 1040V1153.75M648.00 1040V1153.75M721.75 1040V1153.75M796.50 1040V1153.75M871.25 1040V1153.75" fill="none" stroke="#8c1739" stroke-width="1.25"/>
<rect x="341.40" y="1164.5" width="604.35" height="46.75" fill="none" stroke="#8c1739" stroke-width="1.3"/>
<text x="0" y="1070.1" font-size="29.4" text-anchor="middle" fill="#1a1a1a" stroke="#1a1a1a" stroke-width="1.0" transform="translate(373.75 0) scale(1.000 1)">A</text>
<text x="0" y="1070.1" font-size="29.4" text-anchor="middle" fill="#1a1a1a" stroke="#1a1a1a" stroke-width="1.0" transform="translate(453.04 0) scale(1.070 1)">B</text>
<text x="0" y="1070.1" font-size="29.4" text-anchor="middle" fill="#1a1a1a" stroke="#1a1a1a" stroke-width="1.0" transform="translate(528.00 0) scale(1.000 1)">C</text>
<text x="0" y="1070.1" font-size="29.4" text-anchor="middle" fill="#1a1a1a" stroke="#1a1a1a" stroke-width="1.0" transform="translate(606.38 0) scale(1.030 1)">D</text>
<text x="0" y="1070.1" font-size="29.4" text-anchor="middle" fill="#1a1a1a" stroke="#1a1a1a" stroke-width="1.0" transform="translate(685.00 0) scale(0.940 1)">E</text>
<text x="0" y="1070.1" font-size="29.4" text-anchor="middle" fill="#1a1a1a" stroke="#1a1a1a" stroke-width="1.0" transform="translate(760.00 0) scale(0.980 1)">F</text>
<text x="0" y="1070.1" font-size="29.4" text-anchor="middle" fill="#1a1a1a" stroke="#1a1a1a" stroke-width="1.0" transform="translate(833.50 0) scale(1.030 1)">G</text>
<text x="0" y="1070.1" font-size="29.4" text-anchor="middle" fill="#1a1a1a" stroke="#1a1a1a" stroke-width="1.0" transform="translate(908.50 0) scale(0.980 1)">H</text>
<text x="354.7" y="1118.3" font-size="23.1" fill="#222" stroke="#fff" stroke-width="0.22" textLength="38.2" lengthAdjust="spacingAndGlyphs">167</text>
<text x="433.2" y="1118.3" font-size="23.1" fill="#222" stroke="#fff" stroke-width="0.22" textLength="39.7" lengthAdjust="spacingAndGlyphs">146</text>
<text x="505.4" y="1118.3" font-size="23.1" fill="#222" stroke="#fff" stroke-width="0.22" textLength="46.2" lengthAdjust="spacingAndGlyphs">75,5</text>
<text x="591.7" y="1118.3" font-size="23.1" fill="#222" stroke="#fff" stroke-width="0.22" textLength="28.2" lengthAdjust="spacingAndGlyphs">69</text>
<text x="665.0" y="1118.3" font-size="23.1" fill="#222" stroke="#fff" stroke-width="0.22" textLength="40.0" lengthAdjust="spacingAndGlyphs">156</text>
<text x="745.7" y="1118.3" font-size="23.1" fill="#222" stroke="#fff" stroke-width="0.22" textLength="27.6" lengthAdjust="spacingAndGlyphs">88</text>
<text x="819.2" y="1118.3" font-size="23.1" fill="#222" stroke="#fff" stroke-width="0.22" textLength="27.9" lengthAdjust="spacingAndGlyphs">30</text>
<text x="888.7" y="1118.3" font-size="23.1" fill="#222" stroke="#fff" stroke-width="0.22" textLength="40.0" lengthAdjust="spacingAndGlyphs">193</text>
<text x="353.4" y="1147.3" font-size="23.4" fill="#222" stroke="#fff" stroke-width="0.22" textLength="50.3" lengthAdjust="spacingAndGlyphs">6<tspan font-weight="bold" font-size="17" dy="-4.2" stroke="none">”</tspan><tspan font-size="14.6" dy="-3.3" stroke="#fff" stroke-width="0.1">9/16</tspan></text>
<text x="431.4" y="1147.3" font-size="23.4" fill="#222" stroke="#fff" stroke-width="0.22" textLength="42.2" lengthAdjust="spacingAndGlyphs">5<tspan font-weight="bold" font-size="17" dy="-4.2" stroke="none">”</tspan><tspan font-size="14.6" dy="-3.3" stroke="#fff" stroke-width="0.1">3/4</tspan></text>
<text x="516.7" y="1147.3" font-size="23.4" fill="#222" stroke="#fff" stroke-width="0.22" textLength="22.2" lengthAdjust="spacingAndGlyphs">3<tspan font-weight="bold" font-size="17" dy="-4.2" stroke="none">”</tspan><tspan font-size="14.6" dy="-3.3" stroke="#fff" stroke-width="0.1"></tspan></text>
<text x="577.1" y="1147.3" font-size="23.4" fill="#222" stroke="#fff" stroke-width="0.22" textLength="57.8" lengthAdjust="spacingAndGlyphs">2<tspan font-weight="bold" font-size="17" dy="-4.2" stroke="none">”</tspan><tspan font-size="14.6" dy="-3.3" stroke="#fff" stroke-width="0.1">11/16</tspan></text>
<text x="663.1" y="1147.3" font-size="23.4" fill="#222" stroke="#fff" stroke-width="0.22" textLength="43.0" lengthAdjust="spacingAndGlyphs">6<tspan font-weight="bold" font-size="17" dy="-4.2" stroke="none">”</tspan><tspan font-size="14.6" dy="-3.3" stroke="#fff" stroke-width="0.1">1/8</tspan></text>
<text x="734.6" y="1147.3" font-size="23.4" fill="#222" stroke="#fff" stroke-width="0.22" textLength="50.3" lengthAdjust="spacingAndGlyphs">3<tspan font-weight="bold" font-size="17" dy="-4.2" stroke="none">”</tspan><tspan font-size="14.6" dy="-3.3" stroke="#fff" stroke-width="0.1">7/16</tspan></text>
<text x="809.6" y="1147.3" font-size="23.4" fill="#222" stroke="#fff" stroke-width="0.22" textLength="49.0" lengthAdjust="spacingAndGlyphs">1<tspan font-weight="bold" font-size="17" dy="-4.2" stroke="none">”</tspan><tspan font-size="14.6" dy="-3.3" stroke="#fff" stroke-width="0.1">3/16</tspan></text>
<text x="887.6" y="1147.3" font-size="23.4" fill="#222" stroke="#fff" stroke-width="0.22" textLength="42.3" lengthAdjust="spacingAndGlyphs">7<tspan font-weight="bold" font-size="17" dy="-4.2" stroke="none">”</tspan><tspan font-size="14.6" dy="-3.3" stroke="#fff" stroke-width="0.1">5/8</tspan></text>
<text x="357.6" y="1195.6" font-size="25.8" fill="#a01040" stroke="#fff" stroke-width="0.3" textLength="301.6" lengthAdjust="spacingAndGlyphs">Measures in mm and inches</text>
</svg>
</body></html>
